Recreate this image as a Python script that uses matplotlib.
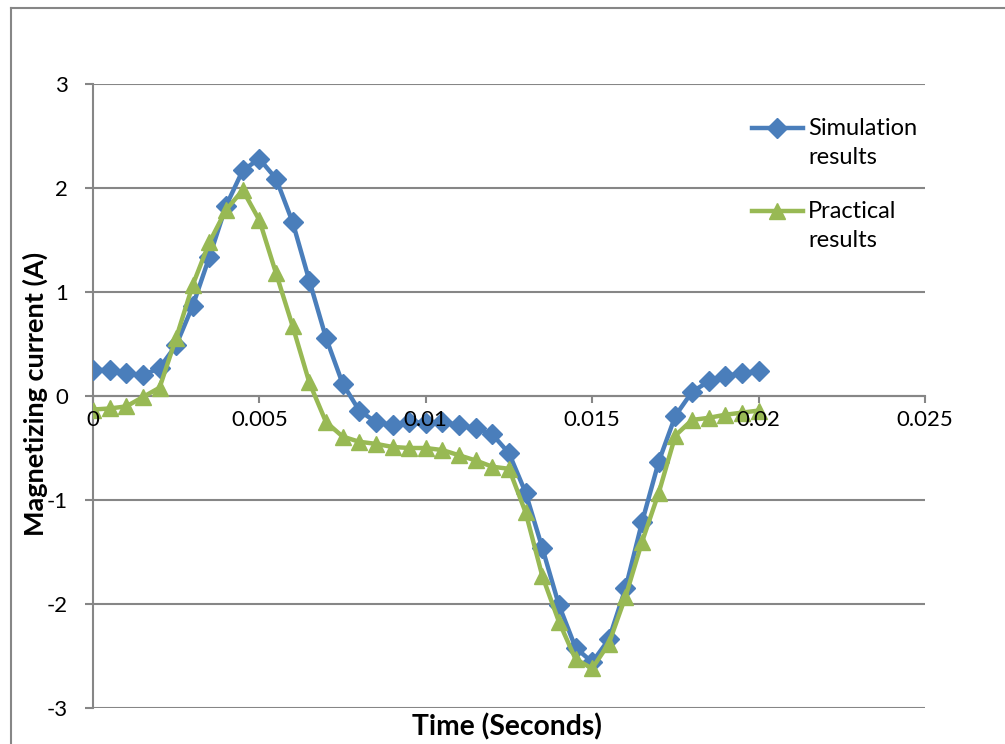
import matplotlib
matplotlib.use("Agg")
import matplotlib.pyplot as plt
from matplotlib.lines import Line2D

plt.rcParams['font.family'] = ['Lato', 'DejaVu Sans']

time_s = [i * 0.0005 for i in range(41)]
simulation = [0.25, 0.25, 0.22, 0.20, 0.27, 0.49, 0.87, 1.34, 1.83, 2.17,
              2.28, 2.09, 1.67, 1.11, 0.56, 0.12, -0.14, -0.25, -0.28, -0.25,
              -0.26, -0.25, -0.28, -0.31, -0.37, -0.55, -0.93, -1.46, -2.01, -2.42,
              -2.56, -2.34, -1.85, -1.21, -0.63, -0.19, 0.04, 0.14, 0.19, 0.22,
              0.24]
practical = [-0.13, -0.12, -0.10, -0.01, 0.08, 0.56, 1.07, 1.48, 1.79, 1.98,
             1.69, 1.18, 0.67, 0.13, -0.25, -0.39, -0.44, -0.46, -0.49, -0.50,
             -0.50, -0.52, -0.57, -0.62, -0.68, -0.70, -1.12, -1.73, -2.17, -2.53,
             -2.62, -2.38, -1.93, -1.40, -0.93, -0.38, -0.23, -0.21, -0.18, -0.16,
             -0.14]
x_ticks = [0, 0.005, 0.01, 0.015, 0.02, 0.025]
x_ticklabels = ['0', '0.005', '0.01', '0.015', '0.02', '0.025']
y_ticks = [-3, -2, -1, 0, 1, 2, 3]

BLUE = '#4A7EBB'
GREEN = '#98B954'
GRID = '#868686'

W, H = 1005, 744
fig = plt.figure(figsize=(W / 100, H / 100), dpi=100)
ax = fig.add_axes([93 / W, 1 - 708 / H, (925 - 93) / W, (708 - 84) / H])

ax.plot(time_s, simulation, color=BLUE, lw=3.2, marker='D', ms=10,
        label='Simulation\nresults', zorder=4)
ax.plot(time_s, practical, color=GREEN, lw=3.2, marker='^', ms=12,
        label='Practical\nresults', zorder=5)

ax.set_xlim(0, 0.025)
ax.set_ylim(-3, 3)
ax.set_xticks(x_ticks)
ax.set_xticklabels(x_ticklabels)
ax.set_yticks(y_ticks)
ax.set_yticklabels([str(v) for v in y_ticks])

for s in ['top', 'right']:
    ax.spines[s].set_visible(False)
ax.spines['bottom'].set_position(('data', 0))
ax.spines['bottom'].set_color(GRID)
ax.spines['left'].set_color(GRID)
ax.spines['bottom'].set_linewidth(1.5)
ax.spines['left'].set_linewidth(1.5)
ax.spines['bottom'].set_zorder(1)
ax.spines['left'].set_zorder(1)
ax.yaxis.grid(True, color=GRID, lw=1.5)
ax.yaxis.set_zorder(0.5)
ax.xaxis.set_zorder(10)   # x tick labels drawn over the curves
ax.tick_params(axis='both', colors=GRID, labelcolor='black', labelsize=16,
               width=1.5)
ax.tick_params(axis='y', length=6, pad=12)
ax.tick_params(axis='x', length=5, pad=5)

fig.text(507 / W, 1 - 727 / H, 'Time (Seconds)', ha='center', va='center',
         fontsize=20.3, fontweight='bold')
fig.text(35 / W, 1 - 394 / H, 'Magnetizing current (A)', ha='center',
         va='center', rotation=90, fontsize=19.5, fontweight='bold')

leg = ax.legend(loc='upper left', bbox_to_anchor=(752 / W, 1 - 118 / H),
                bbox_transform=fig.transFigure, frameon=False, fontsize=17,
                handlelength=2.15, handleheight=1.2, handletextpad=0.22,
                labelspacing=1.37, borderaxespad=0, borderpad=0)
for t in leg.get_texts():
    t.set_linespacing(1.5)
for col in leg._legend_handle_box.get_children():
    for item in col.get_children():
        item.align = 'top'

# chart frame (left and top edges visible)
fig.add_artist(Line2D([11 / W, 11 / W], [0, 1 - 8 / H], color=GRID, lw=1.5,
                      transform=fig.transFigure))
fig.add_artist(Line2D([11 / W, 1], [1 - 8 / H, 1 - 8 / H], color=GRID, lw=1.5,
                      transform=fig.transFigure))

fig.savefig('out.png', dpi=100)
